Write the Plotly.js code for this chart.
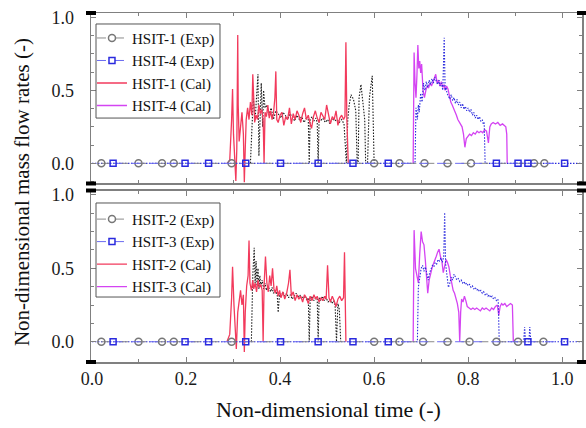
<!DOCTYPE html>
<html>
<head>
<meta charset="utf-8">
<script src="https://cdn.plot.ly/plotly-3.0.1.min.js"></script>
<style>html,body{margin:0;padding:0;background:#fff;}#chart{width:586px;height:428px;}</style>
</head>
<body>
<div id="chart"></div>
<script>
// ---------- Top panel data ----------
// HSIT-1 (Exp)
const exp1X = [0.337,0.343,0.347,0.350,0.353,0.355,0.357,0.360,0.363,
  0.365,0.368,0.372,0.376,0.381,0.386,0.391,0.396,0.401,0.406,
  0.411,0.416,0.421,0.426,0.431,0.436,0.441,0.446,0.451,0.456,
  0.460,0.462,0.464,0.468,0.472,0.476,0.479,0.481,0.483,0.486,
  0.491,0.496,0.501,0.506,0.511,0.516,0.521,0.526,0.531,0.536,
  0.541,0.544,0.547,0.551,0.556,0.561,0.564,0.566,0.568,0.572,
  0.576,0.580,0.582,0.586,0.590,0.594,0.596,0.598,0.600];
const exp1Y = [0.00,0.45,0.30,0.50,0.61,0.05,0.30,0.55,0.25,
  0.50,0.38,0.40,0.33,0.38,0.30,0.36,0.34,0.31,0.35,
  0.33,0.30,0.34,0.32,0.29,0.33,0.30,0.32,0.28,0.31,
  0.30,0.00,0.30,0.32,0.29,0.31,0.28,0.00,0.30,0.29,
  0.31,0.28,0.30,0.27,0.31,0.29,0.30,0.28,0.30,0.27,
  0.00,0.30,0.40,0.47,0.44,0.36,0.00,0.00,0.45,0.54,
  0.40,0.30,0.00,0.00,0.45,0.55,0.60,0.30,0.00];
const exp1MarkX = [0.020,0.099,0.149,0.174,0.297,0.600,0.654,0.707,0.756,0.806,0.940,0.962];

// HSIT-4 (Exp)
const exp4X = [0.000,0.687,0.689,0.692,0.694,0.696,0.699,0.702,0.705,0.708,
  0.711,0.714,0.717,0.720,0.723,0.726,0.729,0.732,0.735,0.738,
  0.740,0.743,0.746,0.749,0.751,0.753,0.755,0.758,0.761,0.764,
  0.767,0.770,0.773,0.776,0.779,0.782,0.785,0.788,0.791,0.794,
  0.797,0.800,0.803,0.806,0.809,0.812,0.815,0.818,0.821,0.824,
  0.827,0.830,0.832,0.834,0.836,1.042];
const exp4Y = [0.00,0.00,0.38,0.30,0.40,0.35,0.48,0.42,0.55,0.50,
  0.56,0.52,0.57,0.54,0.58,0.55,0.59,0.56,0.54,0.57,
  0.53,0.55,0.50,0.86,0.50,0.52,0.48,0.46,0.44,0.47,
  0.43,0.45,0.41,0.44,0.40,0.42,0.38,0.41,0.37,0.39,
  0.36,0.38,0.35,0.37,0.33,0.35,0.31,0.33,0.30,0.32,
  0.29,0.30,0.27,0.28,0.00,0.00];
const exp4MarkX = [0.045,0.198,0.248,0.327,0.401,0.481,0.555,0.630,0.860,0.906,0.927,1.005];

// HSIT-1 (Cal)
const cal1X = [0.287,0.293,0.297,0.299,0.301,0.304,0.306,0.308,0.310,0.311,
  0.313,0.316,0.319,0.322,0.324,0.326,0.328,0.331,0.334,0.337,
  0.340,0.342,0.344,0.346,0.349,0.352,0.355,0.358,0.361,0.364,
  0.366,0.368,0.371,0.374,0.377,0.380,0.383,0.386,0.389,0.391,
  0.393,0.396,0.400,0.404,0.408,0.412,0.416,0.420,0.424,0.428,
  0.432,0.436,0.440,0.444,0.448,0.452,0.456,0.460,0.464,0.467,
  0.471,0.475,0.479,0.483,0.487,0.491,0.495,0.499,0.503,0.507,
  0.511,0.515,0.519,0.523,0.527,0.531,0.535,0.538,0.540,0.542,
  0.545];
const cal1Y = [0.00,0.02,0.30,0.51,0.20,-0.05,-0.12,0.10,0.88,0.40,
  0.15,0.25,0.35,0.20,-0.13,0.10,0.30,0.38,0.30,0.42,
  0.33,0.61,0.36,0.28,0.33,0.30,0.40,0.34,0.37,0.30,
  0.00,0.35,0.32,0.40,0.31,0.36,0.30,0.34,0.45,0.63,
  0.30,0.28,0.33,0.35,0.26,0.32,0.30,0.38,0.27,0.34,
  0.30,0.36,0.33,0.28,0.34,0.38,0.30,0.33,0.27,0.24,
  0.32,0.36,0.31,0.28,0.35,0.32,0.30,0.40,0.33,0.27,
  0.32,0.30,0.36,0.26,0.31,0.33,0.30,0.32,0.83,0.30,
  0.00];

// HSIT-4 (Cal)
const cal4X = [0.683,0.685,0.687,0.689,0.691,0.693,0.695,0.697,0.699,0.701,
  0.704,0.707,0.710,0.713,0.716,0.719,0.722,0.725,0.728,0.731,
  0.734,0.737,0.740,0.743,0.746,0.749,0.751,0.754,0.757,0.760,
  0.763,0.766,0.769,0.772,0.775,0.778,0.781,0.784,0.787,0.790,
  0.793,0.796,0.799,0.803,0.807,0.811,0.815,0.819,0.823,0.827,
  0.831,0.835,0.839,0.843,0.846,0.849,0.853,0.858,0.863,0.868,
  0.873,0.877,0.880,0.882,0.883];
const cal4Y = [0.00,0.76,0.55,0.45,0.60,0.81,0.65,0.70,0.62,0.68,
  0.50,0.45,0.50,0.53,0.52,0.55,0.53,0.56,0.58,0.61,
  0.55,0.57,0.53,0.56,0.52,0.54,0.50,0.53,0.51,0.45,
  0.42,0.40,0.38,0.36,0.33,0.30,0.28,0.27,0.25,0.20,
  0.11,0.17,0.18,0.20,0.19,0.21,0.20,0.22,0.21,0.22,
  0.21,0.23,0.22,0.14,0.25,0.27,0.28,0.27,0.28,0.26,
  0.27,0.26,0.25,0.20,0.00];

// ---------- Bottom panel data ----------
// HSIT-2 (Exp)
const exp2X = [0.339,0.342,0.345,0.347,0.349,0.351,0.353,0.355,0.357,
  0.359,0.362,0.365,0.368,0.371,0.374,0.377,0.380,0.383,0.386,
  0.390,0.394,0.396,0.399,0.402,0.406,0.410,0.414,0.418,0.422,
  0.426,0.430,0.434,0.438,0.442,0.446,0.450,0.454,0.458,0.460,
  0.462,0.464,0.468,0.472,0.476,0.479,0.481,0.483,0.486,0.490,
  0.494,0.498,0.502,0.506,0.510,0.514,0.517,0.520,0.523,0.526,
  0.529];
const exp2Y = [0.00,0.45,0.64,0.40,0.55,0.38,0.50,0.36,0.45,
  0.38,0.42,0.36,0.40,0.35,0.38,0.36,0.34,0.37,0.33,
  0.35,0.32,0.20,0.33,0.30,0.34,0.31,0.33,0.30,0.32,
  0.29,0.31,0.33,0.30,0.32,0.29,0.31,0.30,0.28,0.30,
  0.00,0.29,0.31,0.28,0.30,0.29,0.00,0.30,0.28,0.31,
  0.28,0.30,0.27,0.29,0.26,0.28,0.25,0.00,0.26,0.22,
  0.00];
const exp2MarkX = [0.020,0.099,0.149,0.174,0.297,0.600,0.654,0.704,0.756,0.803,0.860,0.906,0.960];

// HSIT-3 (Exp)
const exp3X = [0.000,0.692,0.694,0.697,0.700,0.703,0.706,0.709,0.712,0.715,
  0.718,0.721,0.724,0.727,0.730,0.733,0.736,0.739,0.742,0.745,
  0.748,0.750,0.752,0.755,0.758,0.761,0.764,0.767,0.770,0.773,
  0.776,0.779,0.782,0.785,0.788,0.791,0.794,0.797,0.800,0.803,
  0.806,0.809,0.812,0.815,0.818,0.821,0.824,0.827,0.830,0.833,
  0.836,0.839,0.842,0.845,0.848,0.851,0.854,0.857,0.860,0.863,
  0.864,0.866,0.918,0.920,0.922,0.929,0.931,0.933,1.042];
const exp3Y = [0.00,0.00,0.37,0.45,0.50,0.52,0.48,0.51,0.45,0.42,
  0.47,0.50,0.52,0.51,0.54,0.53,0.56,0.55,0.57,0.54,
  0.58,0.88,0.53,0.45,0.37,0.40,0.44,0.42,0.46,0.44,
  0.42,0.43,0.41,0.42,0.40,0.41,0.39,0.40,0.38,0.39,
  0.37,0.38,0.36,0.37,0.35,0.36,0.34,0.35,0.33,0.34,
  0.32,0.33,0.31,0.32,0.30,0.31,0.29,0.30,0.28,0.29,
  0.27,0.00,0.00,0.10,0.00,0.00,0.10,0.00,0.00];
const exp3MarkX = [0.045,0.198,0.248,0.327,0.401,0.481,0.555,0.630,0.927,1.005];

// HSIT-2 (Cal)
const cal2X = [0.287,0.293,0.297,0.299,0.302,0.305,0.307,0.310,0.313,0.316,
  0.319,0.322,0.324,0.326,0.329,0.332,0.334,0.336,0.339,0.342,
  0.344,0.347,0.350,0.353,0.356,0.359,0.362,0.364,0.366,0.369,
  0.372,0.375,0.378,0.381,0.384,0.387,0.390,0.393,0.396,0.399,
  0.402,0.406,0.410,0.414,0.418,0.421,0.424,0.428,0.432,0.436,
  0.440,0.444,0.448,0.452,0.456,0.460,0.464,0.468,0.472,0.476,
  0.479,0.483,0.487,0.491,0.495,0.498,0.501,0.504,0.507,0.511,
  0.515,0.519,0.523,0.527,0.531,0.535,0.537,0.540];
const cal2Y = [0.00,0.05,0.30,0.51,0.25,0.00,-0.05,0.20,0.30,0.35,
  0.25,0.32,-0.07,0.20,0.38,0.45,0.69,0.40,0.35,0.42,
  0.36,0.40,0.34,0.42,0.37,0.39,0.35,0.00,0.38,0.58,
  0.40,0.34,0.45,0.38,0.50,0.36,0.33,0.38,0.31,0.35,
  0.30,0.34,0.29,0.33,0.40,0.49,0.31,0.34,0.28,0.32,
  0.29,0.31,0.27,0.32,0.30,0.26,0.31,0.28,0.32,0.29,
  0.31,0.27,0.30,0.28,0.31,0.29,0.52,0.30,0.27,0.31,
  0.28,0.24,0.29,0.31,0.28,0.30,0.61,0.00];

// HSIT-3 (Cal)
const cal3X = [0.683,0.685,0.688,0.691,0.694,0.697,0.700,0.703,0.706,0.709,
  0.712,0.714,0.717,0.720,0.723,0.726,0.729,0.732,0.735,0.738,
  0.741,0.744,0.747,0.750,0.753,0.756,0.759,0.762,0.765,0.768,
  0.771,0.774,0.777,0.780,0.782,0.784,0.786,0.789,0.792,0.795,
  0.798,0.802,0.806,0.810,0.814,0.818,0.822,0.826,0.830,0.834,
  0.838,0.842,0.846,0.850,0.854,0.858,0.862,0.865,0.868,0.871,
  0.874,0.878,0.882,0.886,0.890,0.894,0.896];
const cal3Y = [0.00,0.76,0.50,0.45,0.40,0.60,0.75,0.68,0.66,0.55,
  0.40,0.33,0.42,0.47,0.50,0.53,0.55,0.58,0.61,0.63,
  0.58,0.55,0.47,0.52,0.56,0.54,0.51,0.45,0.40,0.35,
  0.33,0.30,0.26,0.20,0.00,0.20,0.29,0.27,0.31,0.28,
  0.24,0.23,0.22,0.23,0.22,0.23,0.22,0.21,0.23,0.22,
  0.23,0.22,0.21,0.23,0.22,0.24,0.25,0.18,0.24,0.26,
  0.25,0.26,0.24,0.25,0.26,0.25,0.00];

// ---------- Styling ----------
const SERIF = 'Liberation Serif, Times New Roman, serif';
const RED = '#f23a5c', MAG = '#d444f2', BLUE = '#2a2ade', BLK = '#1a1a1a', GRAY = '#777777';
const DOTS = '1.5px,1.5px';

function zeros(a){ return a.map(() => 0); }

function panel(xa, ya, lg, e1x, e1y, e1m, e2x, e2y, e2m, c1x, c1y, c2x, c2y, n1, n2) {
  return [
    {x:e1x, y:e1y, xaxis:xa, yaxis:ya, mode:'lines', showlegend:false, hoverinfo:'skip',
     line:{color:BLK, dash:DOTS, width:1.1}},
    {x:c1x, y:c1y, xaxis:xa, yaxis:ya, mode:'lines', name:'HSIT-'+n1+' (Cal)', legend:lg, legendrank:3,
     line:{color:RED, width:1.3}},
    {x:c2x, y:c2y, xaxis:xa, yaxis:ya, mode:'lines', name:'HSIT-'+n2+' (Cal)', legend:lg, legendrank:4,
     line:{color:MAG, width:1.3}},
    {x:e2x, y:e2y, xaxis:xa, yaxis:ya, mode:'lines', showlegend:false, hoverinfo:'skip',
     line:{color:BLUE, dash:DOTS, width:1.1}},
    {x:e1m, y:zeros(e1m), xaxis:xa, yaxis:ya, mode:'lines+markers', name:'HSIT-'+n1+' (Exp)', legend:lg, legendrank:1,
     line:{color:'#8a8a8a', dash:'dash', width:1}, marker:{symbol:'circle-open', size:7, color:GRAY, line:{width:1.5, color:GRAY}}},
    {x:e2m, y:zeros(e2m), xaxis:xa, yaxis:ya, mode:'lines+markers', name:'HSIT-'+n2+' (Exp)', legend:lg, legendrank:2,
     line:{color:'#6a6af0', dash:'dash', width:1}, marker:{symbol:'square-open', size:6, color:BLUE, line:{width:1.5, color:BLUE}}}
  ];
}

const data = [].concat(
  panel('x','y','legend', exp1X, exp1Y, exp1MarkX, exp4X, exp4Y, exp4MarkX, cal1X, cal1Y, cal4X, cal4Y, 1, 4),
  panel('x2','y2','legend2', exp2X, exp2Y, exp2MarkX, exp3X, exp3Y, exp3MarkX, cal2X, cal2Y, cal3X, cal3Y, 2, 3)
);

const xRange = [-0.002, 1.042];
const yRange = [-0.138, 1.03];
const AX = '#808080';

function xAxis(anchor, labels) {
  return {anchor:anchor, domain:[0,1], range:xRange, showgrid:false, zeroline:false,
    showline:true, linecolor:AX, linewidth:1.5, mirror:'ticks',
    ticks:'inside', ticklen:5, tickwidth:1, tickcolor:AX, tick0:0, dtick:0.2,
    tickformat:'.1f', showticklabels:labels,
    tickfont:{family:SERIF, size:18, color:'#1a1a1a'},
    minor:{dtick:0.1, ticks:'inside', ticklen:3, tickcolor:AX}};
}
function yAxis(anchor, dom) {
  return {anchor:anchor, domain:dom, range:yRange, showgrid:false, zeroline:false,
    showline:true, linecolor:AX, linewidth:1.5, mirror:'ticks',
    ticks:'inside', ticklen:5, tickwidth:1, tickcolor:AX, tick0:0, dtick:0.5,
    tickformat:'.1f', ticklabelstandoff:12,
    tickfont:{family:SERIF, size:18, color:'#1a1a1a'},
    minor:{dtick:0.125, ticks:'inside', ticklen:3, tickcolor:AX}};
}

const TOPB = 0.5115, BOTT = 0.4914;
const shapes = [];
[[0,1],[0,TOPB],[0,BOTT],[0,0],[1,1],[1,TOPB],[1,BOTT],[1,0]].forEach(p => {
  shapes.push({type:'rect', xref:'paper', yref:'paper', xsizemode:'pixel', ysizemode:'pixel',
    xanchor:p[0], yanchor:p[1], x0:-5, x1:5, y0:-2, y1:2, fillcolor:'#000', line:{width:0}});
});
// legend frames (drawn as boxes so their size matches the original)
shapes.push({type:'rect', xref:'paper', yref:'paper', x0:0.0102, x1:0.2627, y0:0.699, y1:0.9685,
  fillcolor:'#ffffff', line:{color:'#555555', width:1}, layer:'above'});
shapes.push({type:'rect', xref:'paper', yref:'paper', x0:0.0102, x1:0.2627, y0:0.1862, y1:0.4556,
  fillcolor:'#ffffff', line:{color:'#555555', width:1}, layer:'above'});

const legendBase = {xanchor:'left', yanchor:'top', bgcolor:'rgba(0,0,0,0)', borderwidth:0,
  font:{family:SERIF, size:15, color:'#111'}, traceorder:'normal'};

const layout = {
  width:586, height:428,
  margin:{l:91, r:4, t:13, b:66},
  paper_bgcolor:'#ffffff', plot_bgcolor:'#ffffff',
  showlegend:true,
  xaxis: xAxis('y', false),
  yaxis: yAxis('x', [TOPB, 1]),
  xaxis2: xAxis('y2', true),
  yaxis2: yAxis('x2', [0, BOTT]),
  legend: Object.assign({x:0.002, y:0.975}, legendBase),
  legend2: Object.assign({x:0.002, y:0.456}, legendBase),
  shapes: shapes,
  annotations:[
    {text:'Non-dimensional mass flow rates (-)', xref:'paper', yref:'paper', x:-0.1405, y:0.487,
     textangle:-90, showarrow:false, xanchor:'center', yanchor:'middle',
     font:{family:SERIF, size:21, color:'#111'}},
    {text:'Non-dimensional time (-)', xref:'paper', yref:'paper', x:0.4827, y:-0.1375,
     showarrow:false, xanchor:'center', yanchor:'middle',
     font:{family:SERIF, size:22, color:'#111'}}
  ]
};

Plotly.newPlot('chart', data, layout, {displayModeBar:false, staticPlot:true});
</script>
</body>
</html>
